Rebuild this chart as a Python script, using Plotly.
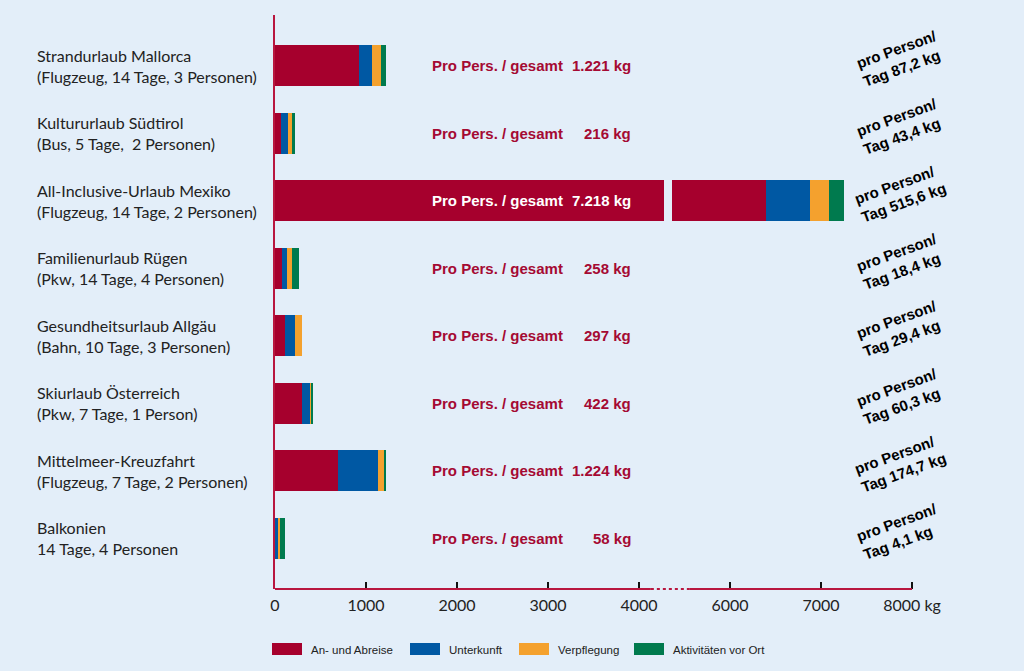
import numpy as np
import plotly.graph_objects as go

# ---------------- data ----------------
categories = [
    "Strandurlaub Mallorca",
    "Kultururlaub Südtirol",
    "All-Inclusive-Urlaub Mexiko",
    "Familienurlaub Rügen",
    "Gesundheitsurlaub Allgäu",
    "Skiurlaub Österreich",
    "Mittelmeer-Kreuzfahrt",
    "Balkonien",
]
details = [
    "(Flugzeug, 14 Tage, 3 Personen)",
    "(Bus, 5 Tage,  2 Personen)",
    "(Flugzeug, 14 Tage, 2 Personen)",
    "(Pkw, 14 Tage, 4 Personen)",
    "(Bahn, 10 Tage, 3 Personen)",
    "(Pkw, 7 Tage, 1 Person)",
    "(Flugzeug, 7 Tage, 2 Personen)",
    "14 Tage, 4 Personen",
]
series_names = ["An- und Abreise", "Unterkunft", "Verpflegung", "Aktivitäten vor Ort"]
an_abreise = [921, 68, 6400, 79, 110, 292, 690, 0]
unterkunft = [147, 77, 480, 55, 108, 88, 440, 30]
verpflegung = [99, 51, 210, 55, 79, 26, 72, 22]
aktivitaeten = [54, 20, 165, 70, 0, 16, 22, 55]
totals_text = ["1.221", "216", "7.218", "258", "297", "422", "1.224", "58"]
per_day_text = ["87,2", "43,4", "515,6", "18,4", "29,4", "60,3", "174,7", "4,1"]
tick_values = [0, 1000, 2000, 3000, 4000, 6000, 7000, 8000]
tick_labels = ["0", "1000", "2000", "3000", "4000", "6000", "7000", "8000 kg"]

# ---------------- style ----------------
BG = "#e3eef9"
COLORS = ["#a6002d", "#0058a3", "#f4a12e", "#007a4e"]
AXIS_RED = "#b8163f"
TEXT_RED = "#a50a33"
LABEL_FONT = "Lato"
BOLD_FONT = "Liberation Sans"

W, H = 1024, 671
ML, MR, MT, MB = 275, 64, 15, 82
PW, PH = W - ML - MR, H - MT - MB

# broken axis: values above BREAK_FROM are shifted left by BREAK_SHIFT
BREAK_FROM = 5000
BREAK_SHIFT = 1000
AXIS_BREAK = (4130, 4560)   # display units of dotted axis piece
BAR_GAP = (4270, 90)        # start, width of the gap drawn in the long bar
BAR_WIDTH = 0.61

# manual legend layout (pixel positions of the swatches)
LEGEND_SWATCH_X = [272, 410, 519, 634]
LEGEND_Y = 649
SWATCH_W, SWATCH_H = 30, 12


def disp(v):
    v = np.asarray(v, dtype=float)
    return np.where(v > BREAK_FROM, v - BREAK_SHIFT, v)


def px_x(p):
    return (p - ML) / PW


def px_y(p):
    return (H - MB - p) / PH


y_idx = list(range(len(categories)))
series = [an_abreise, unterkunft, verpflegung, aktivitaeten]

fig = go.Figure()
cum = np.zeros(len(categories))
for name, vals, col in zip(series_names, series, COLORS):
    new = cum + np.asarray(vals, dtype=float)
    base = disp(cum)
    width = disp(new) - base
    fig.add_trace(go.Bar(
        y=y_idx, x=width, base=base, orientation="h", name=name,
        marker=dict(color=col, line=dict(width=0)), width=BAR_WIDTH,
    ))
    cum = new

# gap marking the axis break inside the longest bar
long_idx = int(np.argmax(cum))
fig.add_trace(go.Bar(
    y=[long_idx], x=[BAR_GAP[1]], base=[BAR_GAP[0]], orientation="h",
    marker=dict(color=BG, line=dict(width=0)), width=BAR_WIDTH + 0.04,
    showlegend=False, hoverinfo="skip",
))

annotations = []
LEFT_X = px_x(35)
for i, (c, d) in enumerate(zip(categories, details)):
    annotations.append(dict(
        text=f"{c}<br>{d}", xref="paper", yref="y", x=LEFT_X, y=i,
        xanchor="left", yanchor="middle", align="left", showarrow=False,
        font=dict(family=LABEL_FONT, size=16, color="#222222"),
    ))
    col = "white" if i == long_idx else TEXT_RED
    annotations.append(dict(
        text="Pro Pers. / gesamt", xref="x", yref="y", x=1700, y=i,
        xanchor="left", yanchor="middle", showarrow=False,
        font=dict(family=BOLD_FONT, size=15, color=col, weight="bold"),
    ))
    annotations.append(dict(
        text=f"{totals_text[i]} kg", xref="x", yref="y", x=3934, y=i,
        xanchor="right", yanchor="middle", showarrow=False,
        font=dict(family=BOLD_FONT, size=15, color=col, weight="bold"),
    ))
    annotations.append(dict(
        text=f"pro Person/<br>Tag {per_day_text[i]} kg", xref="x", yref="y",
        x=6870, y=i, yshift=7, xanchor="center", yanchor="middle",
        align="left", textangle=-20, showarrow=False,
        font=dict(family=BOLD_FONT, size=15, color="black", weight="bold"),
    ))

shapes = [
    dict(type="line", xref="x", yref="paper", x0=0, x1=AXIS_BREAK[0], y0=0, y1=0,
         line=dict(color=AXIS_RED, width=2)),
    dict(type="line", xref="x", yref="paper", x0=AXIS_BREAK[0], x1=AXIS_BREAK[1], y0=0, y1=0,
         line=dict(color=AXIS_RED, width=2, dash="dot")),
    dict(type="line", xref="x", yref="paper", x0=AXIS_BREAK[1], x1=float(disp(tick_values[-1])),
         y0=0, y1=0, line=dict(color=AXIS_RED, width=2)),
]

# legend drawn as swatches + labels
for name, col, sx in zip(series_names, COLORS, LEGEND_SWATCH_X):
    shapes.append(dict(
        type="rect", xref="paper", yref="paper",
        x0=px_x(sx), x1=px_x(sx + SWATCH_W),
        y0=px_y(LEGEND_Y - SWATCH_H / 2), y1=px_y(LEGEND_Y + SWATCH_H / 2),
        fillcolor=col, line=dict(width=0),
    ))
    annotations.append(dict(
        text=name, xref="paper", yref="paper", x=px_x(sx + SWATCH_W + 7),
        y=px_y(LEGEND_Y + 1), xanchor="left", yanchor="middle", showarrow=False,
        font=dict(family=BOLD_FONT, size=11.5, color="#222222"),
    ))

fig.update_layout(
    width=W, height=H,
    margin=dict(l=ML, r=MR, t=MT, b=MB),
    paper_bgcolor=BG, plot_bgcolor=BG,
    barmode="overlay", bargap=0,
    showlegend=False,
    xaxis=dict(range=[0, 7527], tickvals=list(disp(tick_values)), ticktext=tick_labels,
               showgrid=False, zeroline=False, showline=False,
               ticks="inside", ticklen=7, tickwidth=1.5, tickcolor="#111111",
               ticklabelstandoff=5,
               tickfont=dict(family=LABEL_FONT, size=16, color="#222222")),
    yaxis=dict(range=[7.75, -0.75], showticklabels=False, showgrid=False, zeroline=False,
               showline=True, linecolor=AXIS_RED, linewidth=2, ticks=""),
    annotations=annotations, shapes=shapes,
)

fig.write_html(
    "out.html",
    config={"displayModeBar": False},
    post_script="document.body.style.margin='0';document.body.style.overflow='hidden';",
)
